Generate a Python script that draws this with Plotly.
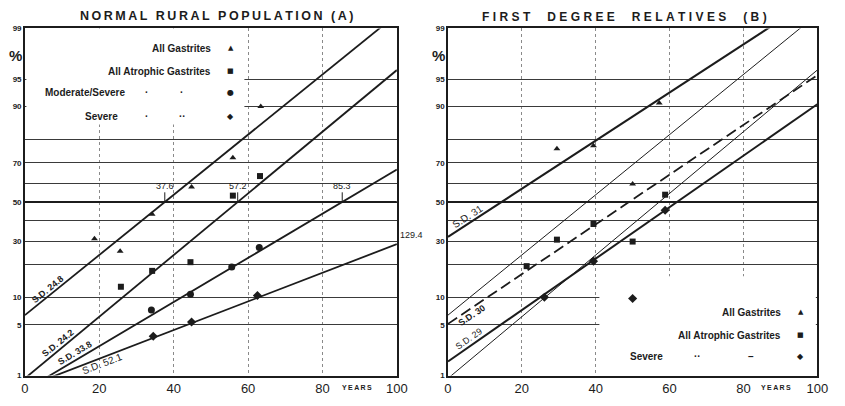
from statistics import NormalDist
import plotly.graph_objects as go

nd = NormalDist()


def z(p):
    return nd.inv_cdf(p / 100.0)


W, H = 845, 406

# ---------------- data ----------------
tick_pct = [1, 5, 10, 30, 50, 70, 90, 95, 99]
grid_pct = [1, 5, 10, 20, 30, 40, 50, 60, 70, 80, 90, 95, 99]
x_ticks = [0, 20, 40, 60, 80, 100]

# Panel A : normal rural population
A_tri_age = [18.7, 25.6, 34.2, 44.8, 55.9, 63.4]
A_tri_pct = [31.1, 25.5, 43.5, 58.0, 72.4, 90.0]
A_sq_age = [25.8, 34.2, 44.5, 55.9, 63.2]
A_sq_pct = [12.8, 17.8, 21.0, 53.4, 63.6]
A_ci_age = [34.0, 44.5, 55.6, 63.0]
A_ci_pct = [7.4, 10.8, 19.2, 27.1]
A_di_age = [34.5, 44.8, 62.5]
A_di_pct = [3.6, 5.4, 10.5]
A_means = [37.6, 57.2, 85.3, 129.4]
A_sds = [24.8, 24.2, 33.8, 52.1]
A_mean_labels = ["37.6", "57.2", "85.3", "129.4"]
A_sd_labels = ["S.D. 24.8", "S.D. 24.2", "S.D. 33.8", "S.D. 52.1"]

# Panel B : first degree relatives
B_tri_age = [29.5, 39.4, 50.0, 57.2]
B_tri_pct = [76.2, 77.5, 59.6, 90.8]
B_sq_age = [21.3, 29.5, 39.4, 50.0, 58.8]
B_sq_pct = [19.5, 30.7, 38.4, 29.8, 53.9]
B_di_age = [26.1, 39.4, 50.0, 58.8]
B_di_pct = [10.1, 21.4, 9.8, 45.6]
B_means = [14.5, 49.0, 62.0]
B_sds = [31.0, 30.0, 29.0]
B_sd_labels = ["S.D. 31", "S.D. 30", "S.D. 29"]

INK = "#1c1c1c"
FONT = "Liberation Sans, Arial, sans-serif"

fig = go.Figure()


def fit_line(mean, sd, xa, ya, width=2.0, dash="solid"):
    xs = [0, 100]
    fig.add_trace(go.Scatter(
        x=xs, y=[(v - mean) / sd for v in xs], mode="lines",
        line=dict(color=INK, width=width, dash=dash),
        xaxis=xa, yaxis=ya, showlegend=False, hoverinfo="skip"))


def points(ages, pcts, symbol, xa, ya, size=6):
    fig.add_trace(go.Scatter(
        x=ages, y=[z(p) for p in pcts], mode="markers",
        marker=dict(symbol=symbol, size=size, color=INK),
        xaxis=xa, yaxis=ya, showlegend=False, cliponaxis=False))


# Panel A lines + points
for m, s in zip(A_means, A_sds):
    fit_line(m, s, "x", "y", width=1.8)
points(A_tri_age, A_tri_pct, "triangle-up", "x", "y")
points(A_sq_age, A_sq_pct, "square", "x", "y")
points(A_ci_age, A_ci_pct, "circle", "x", "y", size=7)
points(A_di_age, A_di_pct, "diamond", "x", "y", size=7)

# Panel B lines: own fits + normal population reference (thin)
fit_line(B_means[0], B_sds[0], "x2", "y2", width=2.0)
fit_line(A_means[0], A_sds[0], "x2", "y2", width=1.0)
fit_line(B_means[1], B_sds[1], "x2", "y2", width=1.8, dash="11px,5px")
fit_line(A_means[1], A_sds[1], "x2", "y2", width=1.0)
fit_line(B_means[2], B_sds[2], "x2", "y2", width=2.0)
points(B_tri_age, B_tri_pct, "triangle-up", "x2", "y2")
points(B_sq_age, B_sq_pct, "square", "x2", "y2")
points(B_di_age, B_di_pct, "diamond", "x2", "y2", size=7)

ytickvals = [z(p) for p in grid_pct]
yticktext = [("<b>%d</b>" % p) if p in tick_pct else "" for p in grid_pct]

common_x = dict(range=[0, 100], tickvals=x_ticks, ticktext=[str(v) for v in x_ticks],
                showgrid=True, gridcolor="#8a8a8a", griddash="dot", gridwidth=1,
                showline=True, linecolor=INK, linewidth=1.5, mirror=True,
                ticks="", zeroline=False,
                tickfont=dict(family=FONT, size=13, color=INK))
common_y = dict(range=[z(1), z(99)], tickvals=ytickvals, ticktext=yticktext,
                showgrid=True, gridcolor="#3a3a3a", gridwidth=1,
                showline=True, linecolor=INK, linewidth=1.5, mirror=True,
                ticks="", zeroline=False,
                tickfont=dict(family=FONT, size=8, color=INK))

yd = [1 - 380 / H, 1 - 25 / H]
fig.update_layout(
    width=W, height=H, margin=dict(l=0, r=0, t=0, b=0),
    paper_bgcolor="white", plot_bgcolor="white", showlegend=False,
    xaxis=dict(domain=[21.3 / W, 400 / W], anchor="y", **common_x),
    yaxis=dict(domain=yd, anchor="x", **common_y),
    xaxis2=dict(domain=[452 / W, 828 / W], anchor="y2", **common_x),
    yaxis2=dict(domain=yd, anchor="x2", **common_y),
)

shapes = []
# blank areas behind the legends (no grid there)
shapes.append(dict(type="rect", xref="x", yref="y", x0=0.4, x1=59, y0=1.04, y1=2.5,
                   fillcolor="white", line=dict(width=0), layer="between"))
shapes.append(dict(type="rect", xref="x2", yref="y2", x0=41, x1=99.6, y0=-2.5, y1=z(16),
                   fillcolor="white", line=dict(width=0), layer="between"))
# heavier 50 % lines
for xr, yr in (("x", "y"), ("x2", "y2")):
    shapes.append(dict(type="line", xref=xr, yref=yr, x0=0, x1=100, y0=0, y1=0,
                       line=dict(color=INK, width=2), layer="between"))
# mean tick marks (panel A)
for m in A_means[:3]:
    shapes.append(dict(type="line", xref="x", yref="y", x0=m, x1=m, y0=0, y1=0.13,
                       line=dict(color=INK, width=1)))
fig.update_layout(shapes=shapes)


def spaced(s, sep="\u2009"):
    return sep.join(list(s))


ann = []


def pa(px, py, text, size=10, bold=True, xanchor="center", family=FONT, angle=0):
    ann.append(dict(xref="paper", yref="paper", x=px / W, y=1 - py / H, text=("<b>%s</b>" % text) if bold else text,
                    showarrow=False, xanchor=xanchor, yanchor="middle", textangle=angle,
                    font=dict(family=family, size=size, color=INK)))


# titles
pa(216, 12, spaced("NORMAL RURAL POPULATION (A)"), size=12.5)
pa(632, 13, spaced("FIRST  DEGREE  RELATIVES  (B)", "\u2009\u200a"), size=12)
# percent signs
pa(12, 53, "%", size=15)
pa(442, 53, "%", size=15)
# YEARS
pa(359, 392, spaced("YEARS"), size=7)
pa(786, 392, spaced("YEARS"), size=7)

GLY = "DejaVu Sans"
# legend A
pa(213, 45, "All Gastrites", size=10, xanchor="right")
pa(231, 45, "▲", size=7, family=GLY)
pa(213, 69, "All Atrophic Gastrites", size=10, xanchor="right")
pa(231, 69, "■", size=7, family=GLY)
pa(40, 91, "Moderate/Severe", size=10, xanchor="left")
pa(145, 91, "·", size=10)
pa(181, 91, "·", size=10)
pa(231, 91, "●", size=8, family=GLY)
pa(80, 115, "Severe", size=10, xanchor="left")
pa(145, 115, "·", size=10)
pa(182, 115, "··", size=10)
pa(231, 115, "◆", size=8, family=GLY)
# legend B
pa(793, 315, "All Gastrites", size=10, xanchor="right")
pa(811, 315, "▲", size=7, family=GLY)
pa(793, 339, "All Atrophic Gastrites", size=10, xanchor="right")
pa(811, 339, "■", size=7, family=GLY)
pa(635, 361, "Severe", size=10, xanchor="left")
pa(706, 361, "··", size=10)
pa(761, 361, "–", size=10)
pa(811, 361, "◆", size=8, family=GLY)

# mean labels (panel A)
for m, lab in zip(A_means[:3], A_mean_labels[:3]):
    ann.append(dict(xref="x", yref="y", x=m, y=0.12, text=lab, showarrow=False,
                    xanchor="center", yanchor="bottom",
                    font=dict(family=FONT, size=9, color=INK)))
ann.append(dict(xref="x", yref="y", x=100, y=(100 - A_means[3]) / A_sds[3] + 0.03,
                text=A_mean_labels[3], showarrow=False, xanchor="left", yanchor="bottom",
                xshift=1, font=dict(family=FONT, size=9, color=INK)))


def sd_label(xr, yr, xv, yv, text, angle, size=9, bold=True):
    ann.append(dict(xref=xr, yref=yr, x=xv, y=yv, text=("<b>%s</b>" % text) if bold else text,
                    showarrow=False, textangle=angle, xanchor="center", yanchor="middle",
                    font=dict(family=FONT, size=size, color=INK)))


sd_label("x", "y", 6.3, -1.17, A_sd_labels[0], -39)
sd_label("x", "y", 8.9, -1.89, A_sd_labels[1], -39)
sd_label("x", "y", 13.4, -2.02, A_sd_labels[2], -31)
sd_label("x", "y", 20.8, -2.16, A_sd_labels[3], -21, size=10, bold=False)
sd_label("x2", "y2", 5.3, -0.20, B_sd_labels[0], -33, size=10, bold=False)
sd_label("x2", "y2", 6.6, -1.52, B_sd_labels[1], -34)
sd_label("x2", "y2", 5.6, -1.84, B_sd_labels[2], -35, bold=False)

fig.update_layout(annotations=ann)
fig.write_html("out.html")
